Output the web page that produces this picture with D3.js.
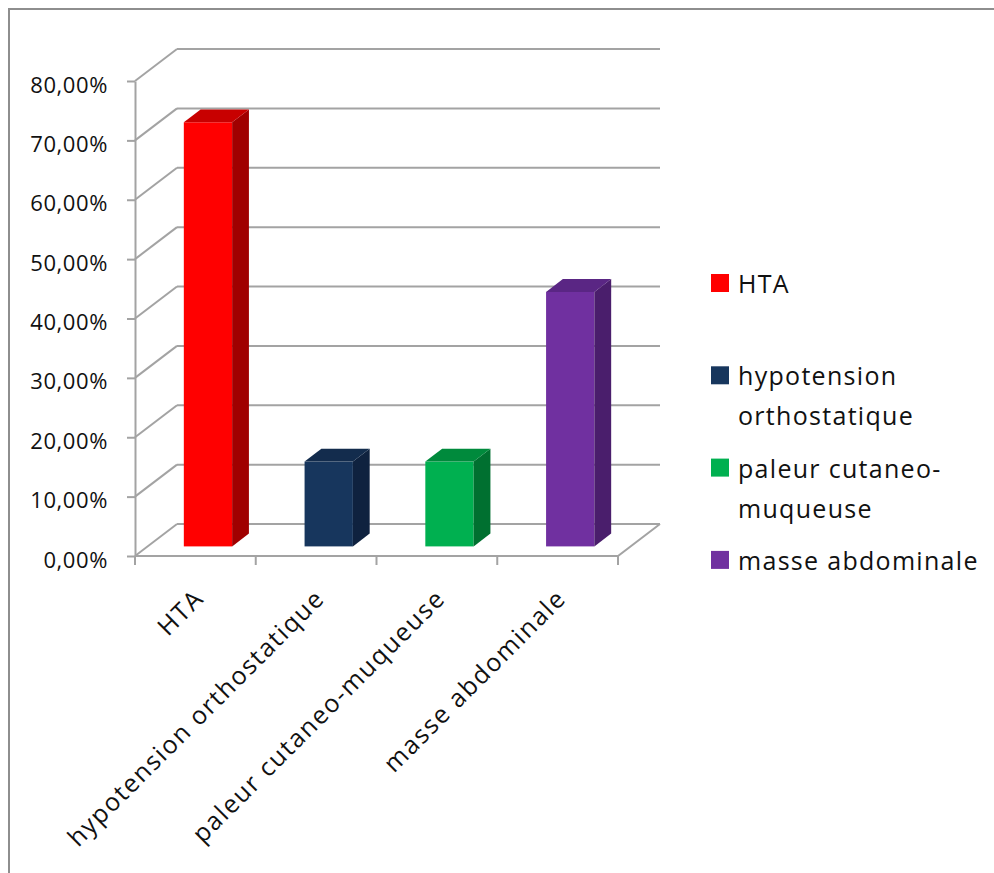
<!DOCTYPE html>
<html>
<head>
<meta charset="utf-8">
<script src="https://cdn.jsdelivr.net/npm/d3@7"></script>
<style>
  body { margin: 0; background: #fff; }
  svg { display: block; font-family: "Open Sans", sans-serif; }
</style>
</head>
<body>
<div id="root"></div>
<script>
// chart data
const categories = ['HTA', 'hypotension orthostatique', 'paleur cutaneo-muqueuse', 'masse abdominale'];
const values = [0.7143, 0.1429, 0.1429, 0.4286];
const legendLines = [['HTA'], ['hypotension', 'orthostatique'], ['paleur cutaneo-', 'muqueuse'], ['masse abdominale']];
const yTicks = [0, 0.1, 0.2, 0.3, 0.4, 0.5, 0.6, 0.7, 0.8];

// face colours: front, side, top
const colors = [
  ['#ff0000', '#a00000', '#c80000'],
  ['#17365d', '#0f223f', '#132c4d'],
  ['#00b050', '#007030', '#008a3c'],
  ['#7030a0', '#4a1e6c', '#5a2684']
];

const W = 994;
const H = 873;
// depth of the 3d box
const DX = 42;
const DY = -32;
const GRID = '#a3a3a3';
const TEXT = '#111';

const svg = d3.select('#root')
  .append('svg')
  .attr('width', W)
  .attr('height', H);

// frame (only top and left visible)
svg.append('rect')
  .attr('x', 9).attr('y', 9)
  .attr('width', 1100).attr('height', 1100)
  .attr('fill', 'none')
  .attr('stroke', '#8e8e8e')
  .attr('stroke-width', 2);

const y = d3.scaleLinear().domain([0, 0.8]).range([556, 81]);
const x = d3.scaleBand().domain(categories).range([135, 618]);

const fr = d3.formatLocale({ decimal: ',', thousands: ' ', grouping: [3], currency: ['', '€'] });
const pct = fr.format('.2%');

// back wall gridlines + left wall diagonals
const grid = svg.append('g').attr('stroke', GRID).attr('stroke-width', 2).attr('fill', 'none');
grid.selectAll('line.back')
  .data(yTicks)
  .enter()
  .append('line')
  .attr('class', 'back')
  .attr('x1', x.range()[0] + DX).attr('x2', x.range()[1] + DX)
  .attr('y1', d => y(d) + DY).attr('y2', d => y(d) + DY);
grid.selectAll('line.side')
  .data(yTicks)
  .enter()
  .append('line')
  .attr('class', 'side')
  .attr('x1', x.range()[0]).attr('x2', x.range()[0] + DX)
  .attr('y1', d => y(d)).attr('y2', d => y(d) + DY);

// floor: front edge and right edge
grid.append('path')
  .attr('d', `M${x.range()[0]},${y(0)} L${x.range()[1]},${y(0)} L${x.range()[1] + DX},${y(0) + DY}`);

// y axis
const yAxis = svg.append('g')
  .attr('transform', `translate(${x.range()[0]},0)`)
  .call(d3.axisLeft(y).tickValues(yTicks).tickFormat(pct).tickSize(8).tickPadding(27).tickSizeOuter(0));
yAxis.select('.domain').attr('stroke', GRID).attr('stroke-width', 2);
yAxis.selectAll('.tick line').attr('stroke', GRID).attr('stroke-width', 2);
yAxis.selectAll('.tick text')
  .attr('x', -27)
  .attr('dy', '0.5em')
  .attr('fill', TEXT)
  .style('font-size', '22px')
  .style('letter-spacing', '0.6px')
  .style('font-family', '"Open Sans", sans-serif');

// x axis boundary ticks
const bounds = [...categories.map(c => x(c)), x.range()[1]];
svg.append('g')
  .selectAll('line')
  .data(bounds)
  .enter()
  .append('line')
  .attr('x1', d => d).attr('x2', d => d)
  .attr('y1', y(0)).attr('y2', y(0) + 9)
  .attr('stroke', GRID)
  .attr('stroke-width', 2);

// x axis labels, rotated
svg.append('g')
  .selectAll('text')
  .data(categories)
  .enter()
  .append('text')
  .attr('transform', d => `translate(${x(d) + x.bandwidth() / 2 + 10},600) rotate(-45)`)
  .attr('text-anchor', 'end')
  .attr('fill', TEXT)
  .style('font-size', '25px')
  .style('letter-spacing', '1.6px')
  .text(d => d);

// 3d bars
const w = x.bandwidth() / 2.5;
const f = 0.3;
const b = 0.7;
const bars = svg.append('g')
  .selectAll('g')
  .data(categories.map((c, i) => ({ c, v: values[i], i })))
  .enter()
  .append('g');

const corners = d => {
  const cx = x(d.c) + x.bandwidth() / 2;
  const l = cx - w / 2;
  const r = cx + w / 2;
  const t = y(d.v);
  const z = y(0);
  return { l, r, t, z };
};

// front face
bars.append('rect')
  .attr('x', d => corners(d).l + f * DX)
  .attr('y', d => corners(d).t + f * DY)
  .attr('width', w)
  .attr('height', d => corners(d).z - corners(d).t)
  .attr('fill', d => colors[d.i][0]);

// side face
bars.append('path')
  .attr('d', (d) => {
    const { r, t, z } = corners(d);
    return `M${r + f * DX},${t + f * DY} L${r + b * DX},${t + b * DY} L${r + b * DX},${z + b * DY} L${r + f * DX},${z + f * DY}Z`;
  })
  .attr('fill', d => colors[d.i][1]);

// top face
bars.append('path')
  .attr('d', (d) => {
    const { l, r, t } = corners(d);
    return `M${l + f * DX},${t + f * DY} L${r + f * DX},${t + f * DY} L${r + b * DX},${t + b * DY} L${l + b * DX},${t + b * DY}Z`;
  })
  .attr('fill', d => colors[d.i][2]);

// legend
const legend = svg.append('g')
  .selectAll('g')
  .data(legendLines)
  .enter()
  .append('g')
  .attr('transform', (d, i) => `translate(711,${293 + i * 92.3})`);

legend.append('rect')
  .attr('x', 0).attr('y', -19)
  .attr('width', 18).attr('height', 18)
  .attr('fill', (d, i) => colors[i][0]);

legend.append('text')
  .attr('fill', TEXT)
  .style('font-size', '25px')
  .style('letter-spacing', '1.3px')
  .selectAll('tspan')
  .data(d => d)
  .enter()
  .append('tspan')
  .attr('x', 27)
  .attr('y', (d, j) => j * 40)
  .text(d => d);
</script>
</body>
</html>
